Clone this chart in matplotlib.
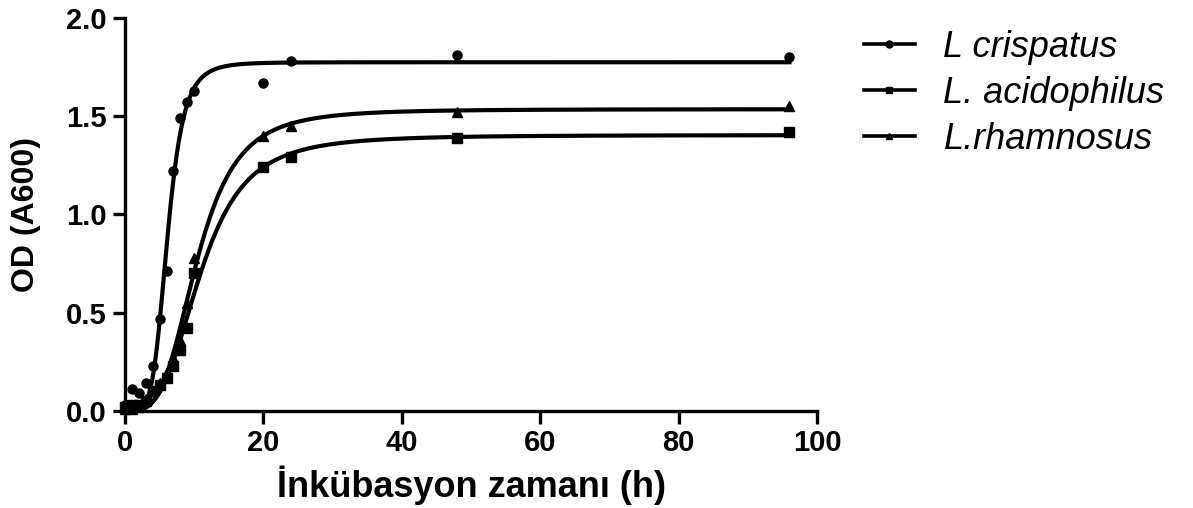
import numpy as np
import matplotlib
matplotlib.use("Agg")
from matplotlib import pyplot as plt
from matplotlib.lines import Line2D

plt.rcParams['font.family'] = ['Liberation Sans', 'DejaVu Sans']

# saat (h)
hours = [0, 1, 2, 3, 4, 5, 6, 7, 8, 9, 10, 20, 24, 48, 96]

# OD (A600) okunan degerler
crispatus = [0.03, 0.11, 0.09, 0.14, 0.23, 0.47, 0.71, 1.22, 1.49, 1.57, 1.63, 1.67, 1.78, 1.81, 1.80]
acidophilus = [0.02, 0.03, 0.03, 0.05, 0.10, 0.13, 0.17, 0.23, 0.31, 0.42, 0.70, 1.24, 1.29, 1.39, 1.42]
rhamnosus = [0.01, 0.01, 0.02, 0.06, 0.10, 0.14, 0.20, 0.27, 0.36, 0.55, 0.78, 1.40, 1.45, 1.52, 1.55]

names = ["L crispatus", "L. acidophilus", "L.rhamnosus"]
markers = ["o", "s", "^"]


def hill(x, p):
    # p = top, log(EC50), hill slope  (bottom = 0)
    top, logc, h = p
    x = np.asarray(x, float)
    return top / (1 + (np.exp(logc) / np.maximum(x, 1e-9)) ** h)


def fit_curve(x, y):
    """sigmoid (Hill) fit, basit Levenberg-Marquardt"""
    x = np.asarray(x, float)
    y = np.asarray(y, float)
    mid = x[np.argmin(abs(y - y.max() / 2))]
    p = np.array([y.max(), np.log(mid), 3.0])
    lam = 1e-2
    for _ in range(800):
        r = y - hill(x, p)
        J = np.zeros((len(x), 3))
        for k in range(3):
            dp = np.zeros(3)
            dp[k] = 1e-6 * max(1.0, abs(p[k]))
            J[:, k] = (hill(x, p + dp) - hill(x, p)) / dp[k]
        A = J.T @ J
        g = J.T @ r
        step = np.linalg.solve(A + lam * np.diag(np.diag(A) + 1e-12), g)
        p_new = p + step
        if np.sum((y - hill(x, p_new)) ** 2) < np.sum(r ** 2):
            p = p_new
            lam *= 0.3
        else:
            lam *= 5
    return p


fig = plt.figure(figsize=(11.93, 5.08), dpi=100)
ax = fig.add_axes([0.1048, 0.191, 0.5801, 0.7736])

xs = np.linspace(0, 96, 800)
handles = []
for ys, name, m in zip([crispatus, acidophilus, rhamnosus], names, markers):
    p = fit_curve(hours, ys)
    ax.plot(xs, hill(xs, p), color="black", lw=3, clip_on=False)
    ax.plot(hours, ys, ls="none", marker=m, color="black", ms=6.5, clip_on=False, zorder=3)
    handles.append(Line2D([], [], color="black", lw=2.6, marker=m, ms=5))

ax.set_xlim(0, 100)
ax.set_ylim(0, 2.0)
ax.set_xticks([0, 20, 40, 60, 80, 100])
ax.set_yticks([0.0, 0.5, 1.0, 1.5, 2.0])
ax.set_yticklabels(["0.0", "0.5", "1.0", "1.5", "2.0"])

for s in ["top", "right"]:
    ax.spines[s].set_visible(False)
for s in ["left", "bottom"]:
    ax.spines[s].set_linewidth(2.4)
ax.tick_params(axis="both", direction="out", length=9, width=2.4, labelsize=21, pad=4)
for lab in ax.get_xticklabels() + ax.get_yticklabels():
    lab.set_fontweight("bold")

ax.set_xlabel("İnkübasyon zamanı (h)", fontsize=26, fontweight="bold", labelpad=6)
ax.set_ylabel("OD (A600)", fontsize=23, fontweight="bold", labelpad=18)

fig.legend(handles, names, loc="upper left", bbox_to_anchor=(0.697, 1.005),
           frameon=False, prop={"style": "italic", "size": 26},
           handlelength=1.4, handletextpad=0.8, labelspacing=0.3)

fig.savefig("out.png", dpi=100)
